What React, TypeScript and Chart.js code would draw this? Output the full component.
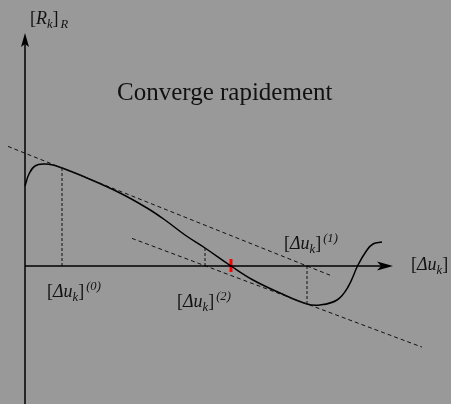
import { useEffect, useRef } from "react";
import { Chart, registerables } from "chart.js";

Chart.register(...registerables);

// Residual curve [R_k]_R as a function of [Δu_k] (origin at the axes crossing)
const curveX = [0, 4, 10, 20, 28, 37, 62, 95, 122, 140, 160, 180, 206, 228, 255, 282, 295, 312, 323, 333, 342, 348, 357];
const curveY = [80, 92, 100, 102, 101, 98, 88, 73, 58, 46, 31, 18, 0, -14, -27, -38, -39, -34, -21, 1, 16, 22, 24];

// Newton iterates Δu(0), Δu(1), Δu(2) and the residual at each
const iterX = [37, 282, 180];
const iterR = [98, -38, 18];

// Tangent slopes at Δu(0) and Δu(1), and how far each tangent is drawn
const tangentSlope = [-0.4, -0.375];
const tangentFrom = [-17, 107];
const tangentTo = [305, 397];

// Root of the residual, marked in red
const rootX = 206;
const rootMark = [-6, 7];

// Axis extents
const axisXEnd = 368;
const axisYRange = [-138, 233];

// Visible window
const xRange = [-25, 426];
const yRange = [-138, 266];

type Seg = { t: string; it?: boolean; sub?: boolean; sup?: boolean; gap?: number };

const FONT = '"Liberation Serif", "Times New Roman", serif';

function drawRich(ctx: CanvasRenderingContext2D, segs: Seg[], x: number, y: number, size: number) {
  let cx = x;
  for (const s of segs) {
    const fs = s.sub || s.sup ? size * 0.7 : size;
    ctx.font = `${s.it ? "italic " : ""}${fs}px ${FONT}`;
    const dy = s.sub ? size * 0.24 : s.sup ? -size * 0.38 : 0;
    cx += s.gap || 0;
    ctx.fillText(s.t, cx, y + dy);
    cx += ctx.measureText(s.t).width;
  }
}

const du = (sup?: string): Seg[] => {
  const segs: Seg[] = [{ t: "[" }, { t: "Δu", it: true }, { t: "k", it: true, sub: true }, { t: "]" }];
  if (sup) segs.push({ t: `(${sup})`, it: true, sup: true, gap: 2 });
  return segs;
};

const annotations = {
  id: "annotations",
  beforeDraw(chart: Chart) {
    const ctx = chart.ctx;
    ctx.save();
    ctx.fillStyle = "#999999";
    ctx.fillRect(0, 0, chart.width, chart.height);
    ctx.restore();
  },
  afterDraw(chart: Chart) {
    const ctx = chart.ctx;
    const xs = chart.scales.x;
    const ys = chart.scales.y;
    ctx.save();
    ctx.fillStyle = "#000";

    // arrowhead on the vertical axis
    const vx = xs.getPixelForValue(0);
    const vy = ys.getPixelForValue(axisYRange[1]);
    ctx.beginPath();
    ctx.moveTo(vx, vy);
    ctx.lineTo(vx + 4, vy + 14);
    ctx.lineTo(vx, vy + 11);
    ctx.lineTo(vx - 4, vy + 14);
    ctx.closePath();
    ctx.fill();

    // arrowhead on the horizontal axis
    const hx = xs.getPixelForValue(axisXEnd);
    const hy = ys.getPixelForValue(0);
    ctx.beginPath();
    ctx.moveTo(hx, hy);
    ctx.lineTo(hx - 16, hy - 4.5);
    ctx.lineTo(hx - 12, hy);
    ctx.lineTo(hx - 16, hy + 4.5);
    ctx.closePath();
    ctx.fill();

    // labels
    ctx.fillStyle = "#111";
    ctx.textBaseline = "alphabetic";
    ctx.textAlign = "left";
    ctx.font = `25px ${FONT}`;
    ctx.fillText("Converge rapidement", 117, 100);

    drawRich(
      ctx,
      [{ t: "[" }, { t: "R", it: true }, { t: "k", it: true, sub: true }, { t: "]" }, { t: "R", it: true, sub: true, gap: 2 }],
      30,
      24,
      18
    );
    drawRich(ctx, du(), 411, 270, 18);
    drawRich(ctx, du("0"), 47, 297, 18);
    drawRich(ctx, du("2"), 177, 307, 18);
    drawRich(ctx, du("1"), 284, 249, 18);
    ctx.restore();
  },
};

export default function App() {
  const ref = useRef<HTMLCanvasElement | null>(null);

  useEffect(() => {
    if (!ref.current) return;

    const curve = curveX.map((x, i) => ({ x, y: curveY[i] }));
    const tangents = tangentSlope.map((m, i) => [
      { x: tangentFrom[i], y: iterR[i] + m * (tangentFrom[i] - iterX[i]) },
      { x: tangentTo[i], y: iterR[i] + m * (tangentTo[i] - iterX[i]) },
    ]);
    const drops = iterX.map((x, i) => [
      { x, y: 0 },
      { x, y: iterR[i] },
    ]);

    const seg = (data: { x: number; y: number }[], color: string, width: number, dash: number[] = []) => ({
      data,
      showLine: true,
      borderColor: color,
      borderWidth: width,
      borderDash: dash,
      pointRadius: 0,
      fill: false,
      tension: 0,
    });

    const chart = new Chart(ref.current, {
      type: "scatter",
      data: {
        datasets: [
          seg([{ x: 0, y: 0 }, { x: axisXEnd - 8, y: 0 }], "#000", 1.5),
          seg([{ x: 0, y: axisYRange[0] }, { x: 0, y: axisYRange[1] - 8 }], "#000", 1.5),
          ...tangents.map((t) => seg(t, "#111", 1, [4, 3])),
          ...drops.map((d) => seg(d, "#111", 1, [3, 2])),
          { ...seg(curve, "#000", 1.5), tension: 0.4 },
          seg([{ x: rootX, y: rootMark[0] }, { x: rootX, y: rootMark[1] }], "#ff0000", 3),
        ],
      },
      options: {
        animation: false,
        responsive: false,
        maintainAspectRatio: false,
        layout: { padding: 0 },
        plugins: { legend: { display: false }, tooltip: { enabled: false } },
        events: [],
        scales: {
          x: { type: "linear", min: xRange[0], max: xRange[1], display: false },
          y: { type: "linear", min: yRange[0], max: yRange[1], display: false },
        },
      },
      plugins: [annotations],
    });

    return () => chart.destroy();
  }, []);

  return (
    <div style={{ position: "fixed", left: 0, top: 0, width: 451, height: 404, background: "#999999" }}>
      <canvas ref={ref} width={451} height={404} />
    </div>
  );
}
